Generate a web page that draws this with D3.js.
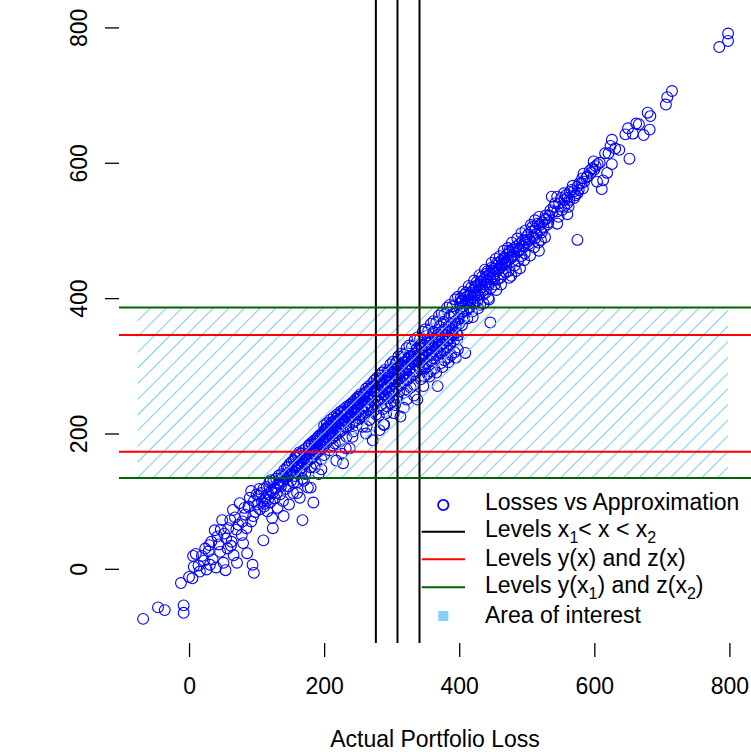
<!DOCTYPE html>
<html>
<head>
<meta charset="utf-8">
<script src="https://cdn.jsdelivr.net/npm/d3@7/dist/d3.min.js"></script>
<style>
	body { margin: 0; background: #fff; }
	text { font-family: 'Liberation Sans', Arial, Helvetica, sans-serif; fill: #000; }
</style>
</head>
<body>
<script>

// actual loss vs approximation
var losses = [
	[-68,-74],[-46,-57],[-36,-61],[-8,-54],[-8,-65],[-12,-21],[0,-12],[5,-14],[7,3],[6,19],
	[19,19],[26,-1],[31,6],[29,26],[46,25],[51,9],[66,20],[71,9],[86,23],[94,6],
	[96,-6],[38,57],[49,72],[61,72],[65,87],[75,97],[90,105],[98,84],[83,80],[55,45],
	[62,34],[78,50],[80,38],[85,60],[92,70],[44,36],[35,14],[70,58],[88,92],[96,100],
	[58,60],[22,12],[14,5],[42,48],
	[10,22],[24,30],[33,40],[52,52],[57,30],[68,76],[73,65],[82,90],[95,78],[100,110],
	[92,115],[79,70],[63,40],[47,58],[30,35],[16,-4],[40,2],[54,-2],
	[101,95],[103,108],[105,88],[107,112],[108,100],[110,118],[111,92],[113,104],[115,121],[116,85],
	[118,110],[119,128],[120,98],[122,115],[123,75],[125,130],[126,118],[127,104],[129,133],[130,112],
	[131,90],[133,138],[134,125],[135,110],[137,140],[138,129],[139,100],[141,146],[142,133],[143,118],
	[145,150],[146,137],[147,122],[148,95],[149,155],[150,140],[110,42],[124,60],[140,78],[168,72],
	[104,118],[112,96],[117,102],[121,131],[128,119],[132,126],[136,122],[144,140],[147,151],[152,141],
	[157,165],[161,150],[163,172],[166,143],[171,167],[174,161],[178,183],[183,176],[187,185],[191,195],
	[195,184],[199,203],[124,112],[139,136],[155,128],[170,130],[186,150],[196,147],[180,120],[160,112],
	[151,130],[152,158],[153,146],[154,112],[155,160],[156,150],[157,137],[158,164],[159,152],[160,128],
	[161,168],[162,156],[163,145],[164,105],[165,170],[166,160],[167,150],[168,133],[169,175],[170,163],
	[171,155],[172,140],[173,178],[174,168],[175,158],[176,120],[177,182],[178,171],[179,162],[180,150],
	[181,186],[182,175],[183,165],[184,98],[185,189],[186,179],[187,170],[188,155],[189,192],[190,182],
	[191,173],[192,140],[193,196],[194,186],[195,177],[196,162],[197,199],[198,189],[199,180],[200,168],
	[200,212],[201,203],[202,195],[203,186],[204,215],[205,207],[206,198],[207,190],[208,175],[209,220],
	[210,211],[211,202],[212,193],[213,182],[214,224],[215,216],[216,206],[217,197],[218,160],[219,228],
	[220,219],[221,210],[222,201],[223,188],[224,232],[225,223],[226,214],[227,205],[228,156],[229,236],
	[230,227],[231,218],[232,209],[233,195],[234,240],[235,231],[236,222],[237,212],[238,178],[239,243],
	[240,235],[241,226],[242,216],[243,203],[244,247],[245,238],[246,229],[247,219],[248,230],[249,250],
	[250,242],[251,233],[252,222],[253,254],[254,246],[255,237],[256,226],[257,210],[258,258],[259,250],
	[260,241],[261,231],[262,200],[263,262],[264,254],[265,245],[266,235],[267,220],[268,266],[269,258],
	[270,249],[271,239],[272,190],[273,270],[274,262],[275,253],[276,243],[277,228],[278,274],[279,266],
	[280,257],[281,247],[282,205],[283,278],[284,270],[285,261],[286,251],[287,236],[288,213],[289,274],
	[290,265],[291,282],[292,255],[293,240],[294,286],[295,278],[296,269],[297,259],[298,245],[299,290],
	[203,208],[207,201],[211,216],[213,195],[217,213],[221,226],[224,204],[229,220],[233,210],[236,238],
	[239,225],[244,232],[247,251],[251,245],[253,228],[257,249],[261,260],[264,240],[268,255],[271,274],
	[276,262],[279,250],[282,286],[285,272],[288,258],[291,268],[295,290],[298,276],[216,185],[232,178],
	[248,212],[259,225],[273,233],[284,242],[296,252],[226,170],[242,195],[263,210],[292,230],[281,226],
	[300,282],[301,273],[302,263],[303,248],[304,294],[305,286],[305,242],[306,277],[307,267],[308,252],
	[309,298],[310,290],[311,281],[312,271],[313,225],[314,302],[315,294],[316,285],[317,275],[318,260],
	[319,306],[320,298],[321,289],[322,279],[323,264],[324,310],[325,302],[326,293],[327,283],[328,268],
	[329,314],[330,306],[331,297],[332,287],[333,272],[334,318],[335,310],[336,301],[337,291],[338,250],
	[339,322],[340,314],[341,305],[342,295],[343,280],[344,326],[345,318],[346,309],[347,299],[348,284],
	[349,330],[350,322],[351,313],[352,303],[353,288],[354,334],[355,326],[356,317],[357,307],[358,292],
	[359,338],[360,330],[361,321],[362,311],[363,296],[364,342],[365,334],[366,325],[367,315],[368,270],
	[369,346],[370,338],[371,329],[372,319],[373,304],[374,350],[375,342],[376,333],[377,323],[378,308],
	[379,354],[380,346],[381,337],[382,327],[383,312],[384,358],[385,350],[386,341],[387,331],[388,316],
	[389,362],[390,354],[391,345],[392,335],[393,320],[394,366],[395,358],[396,349],[397,339],[398,324],
	[399,370],[400,362],[409,319],[446,364],
	[302,296],[305,280],[308,306],[312,288],[315,300],[318,312],[321,294],[324,280],[327,318],[331,310],
	[334,292],[337,325],[340,300],[343,331],[346,315],[349,296],[353,345],[356,333],[359,316],[362,350],
	[365,340],[368,322],[371,358],[374,331],[377,365],[380,352],[383,337],[386,372],[389,346],[392,377],
	[395,362],[398,345],[300,262],[311,262],[322,250],[333,256],[347,270],[356,284],[366,290],[375,298],
	[384,305],[395,312],[289,213],[303,230],[318,238],
	[401,385],[402,392],[403,378],[405,396],[406,388],[407,370],[409,400],[410,392],[411,382],[413,404],
	[414,396],[415,386],[417,408],[418,400],[419,380],[421,412],[422,404],[423,394],[425,416],[426,408],
	[427,396],[429,420],[430,412],[431,390],[433,424],[434,416],[435,405],[437,428],[438,420],[439,408],
	[441,432],[442,424],[443,400],[445,436],[446,428],[447,415],[449,440],[450,432],
	[403,396],[406,380],[408,405],[412,394],[416,404],[420,392],[424,418],[428,405],[432,425],[436,412],
	[440,436],[444,420],[448,445],[452,428],[456,452],[462,448],[466,458],[470,450],[474,470],[478,460],
	[483,472],[488,470],[493,478],[498,486],[404,360],[412,370],[420,372],[428,385],[436,392],[444,398],
	[455,412],[462,420],[474,430],[484,440],[496,456],
	[451,444],[452,436],[453,420],[455,448],[456,440],[457,428],[459,452],[460,444],[461,430],[463,456],
	[464,448],[465,435],[467,460],[468,452],[469,438],[471,464],[472,456],[473,440],[475,468],[476,460],
	[477,433],[479,472],[480,464],[482,448],[484,476],[485,468],[487,455],[489,480],[490,472],[490,444],
	[492,462],[494,485],[495,477],[497,466],[499,490],[500,482],[468,453],
	[502,494],[504,486],[505,463],[507,498],[509,490],[511,475],[513,503],[515,495],[517,482],[519,508],
	[520,500],[521,486],[523,512],[525,504],[527,490],[529,517],[531,509],[560,524],[575,486],
	[503,480],[508,505],[512,488],[516,510],[522,497],[526,516],[533,522],[538,527],[542,540],[547,520],
	[551,548],[555,535],[558,552],[563,545],[568,566],[572,552],[577,560],[581,570],[588,578],[595,585],
	[602,595],[608,600],[545,510],[518,470],
	[560,548],[566,560],[570,558],[575,565],[578,570],[585,572],[590,580],[593,588],[600,590],[605,598],
	[560,540],[548,540],[552,530],[540,535],[545,528],[535,530],[528,522],[532,512],[556,545],[562,535],
	[570,548],[575,555],[583,562],
	[785,771],[798,791],[798,780],[715,706],[708,697],[706,686],[679,674],[683,669],[662,658],[666,657],
	[682,649],[673,641],[646,642],[650,651],[657,643],[626,634],[624,625],[631,621],[637,619],[652,606],
	[616,614],[621,614],[626,598],[619,585],[613,574],[611,561],[599,602],[597,592],[584,584],[582,577],
	[604,572],[564,557],[555,555],[545,550],[537,550],
	[182,184],[186,190],[190,188],[194,198],[198,200],[202,206],[206,210],[210,207],[214,218],[218,222],
	[222,220],[226,230],[230,233],[234,232],[238,242],[242,246],[246,244],[250,254],[254,258],[258,255],
	[262,266],[266,270],[270,268],[274,278],[278,282],[282,280],[286,290],[290,294],[294,292],[298,302],
	[302,306],[306,304],[310,314],[314,318],[318,316],[322,326],[326,330],[330,328],[334,338],[338,342],
	[342,340],[346,350],[350,354],[354,352],[358,362],[362,366],[366,364],[370,374],[374,378],[378,376],
	[382,386],[386,390],[390,388],[394,398],[398,402],[402,400],[406,410],[410,408],[414,418],[418,416],
	[422,426],[426,424],[430,434],[434,432],[438,442],[442,440],[448,452],[454,458],[460,462],[466,470],
	[472,474],[478,482],[486,488],[492,496],[498,500],[506,508],[512,515],[518,520]
];

var xTicks = [0, 200, 400, 600, 800],
	yTicks = [0, 200, 400, 600, 800];

var xLevels = [276.6, 308.6, 341.2],      // x1 < x < x2
	yzLevels = [173.1, 345.4],            // y(x) and z(x)
	bandLevels = [134.3, 386.1],          // y(x1) and z(x2)
	areaRange = [-76.5, 798];             // x extent of the hatched area

var legendLabels = [
	[['Losses vs Approximation']],
	[['Levels x'], ['1', 'sub'], ['< x < x'], ['2', 'sub']],
	[['Levels y(x) and z(x)']],
	[['Levels y(x'], ['1', 'sub'], [') and z(x'], ['2', 'sub'], [')']],
	[['Area of interest']]
];

var colorPoint = '#0000FF',
	colorRed = '#FF0000',
	colorGreen = '#006400',
	colorArea = '#87CEFA';

var width = 751, height = 752;

var x = d3.scaleLinear()
	.domain([-103.7, 834.2])
	.range([119, 752.5]);

var y = d3.scaleLinear()
	.domain([-109.6, 825.3])
	.range([643, 10.3]);

var svg = d3.select('body').append('svg')
	.attr('width', width)
	.attr('height', height)
	.style('display', 'block')
	.style('background', '#fff');

var left = x.range()[0], right = x.range()[1],
	bottom = y.range()[0], top = y.range()[1];

// points
svg.append('g')
	.selectAll('circle')
	.data(losses)
	.enter().append('circle')
	.attr('cx', function(d) { return x(d[0]); })
	.attr('cy', function(d) { return y(d[1]); })
	.attr('r', 5.4)
	.attr('fill', 'none')
	.attr('stroke', colorPoint)
	.attr('stroke-width', 1.1);

// hatched area of interest
var ax0 = x(areaRange[0]), ax1 = x(areaRange[1]),
	ay0 = y(bandLevels[1]), ay1 = y(bandLevels[0]);

svg.append('clipPath').attr('id', 'areaClip')
	.append('rect')
	.attr('x', ax0).attr('y', ay0)
	.attr('width', ax1 - ax0).attr('height', ay1 - ay0);

var hatchStep = 15.67, hatchPhase = 458.6, hatches = [];
for (var c = hatchPhase - hatchStep * Math.ceil((hatchPhase - ax0 - ay0) / hatchStep); c <= ax1 + ay1 + hatchStep; c += hatchStep) {
	hatches.push(c);
}

svg.append('g')
	.attr('clip-path', 'url(#areaClip)')
	.selectAll('line')
	.data(hatches)
	.enter().append('line')
	.attr('x1', ax0).attr('y1', function(d) { return d - ax0; })
	.attr('x2', ax1).attr('y2', function(d) { return d - ax1; })
	.attr('stroke', colorArea)
	.attr('stroke-width', 1.1);

// level lines
svg.append('g').selectAll('line')
	.data(xLevels)
	.enter().append('line')
	.attr('x1', function(d) { return x(d); })
	.attr('x2', function(d) { return x(d); })
	.attr('y1', top).attr('y2', bottom)
	.attr('stroke', '#000')
	.attr('stroke-width', 2);

svg.append('g').selectAll('line')
	.data(yzLevels)
	.enter().append('line')
	.attr('x1', left).attr('x2', right)
	.attr('y1', function(d) { return y(d); })
	.attr('y2', function(d) { return y(d); })
	.attr('stroke', colorRed)
	.attr('stroke-width', 2);

svg.append('g').selectAll('line')
	.data(bandLevels)
	.enter().append('line')
	.attr('x1', left).attr('x2', right)
	.attr('y1', function(d) { return y(d); })
	.attr('y2', function(d) { return y(d); })
	.attr('stroke', colorGreen)
	.attr('stroke-width', 2);

// box
svg.append('rect')
	.attr('x', left).attr('y', top)
	.attr('width', right - left).attr('height', bottom - top)
	.attr('fill', 'none')
	.attr('stroke', '#000')
	.attr('stroke-width', 1.4);

// axes
var xAxis = svg.append('g')
	.attr('transform', 'translate(0,' + bottom + ')')
	.call(d3.axisBottom(x).tickValues(xTicks).tickSize(14).tickFormat(d3.format('d')));

xAxis.select('.domain').remove();
xAxis.selectAll('line').attr('stroke', '#000').attr('stroke-width', 1.3);
xAxis.selectAll('text')
	.attr('y', 51).attr('dy', null)
	.style('font-size', '23px')
	.attr('font-family', null);

var yAxis = svg.append('g')
	.attr('transform', 'translate(' + left + ',0)')
	.call(d3.axisLeft(y).tickValues(yTicks).tickSize(14).tickFormat(d3.format('d')));

yAxis.select('.domain').remove();
yAxis.selectAll('line').attr('stroke', '#000').attr('stroke-width', 1.3);
yAxis.selectAll('text')
	.attr('x', null).attr('dy', null)
	.attr('transform', 'translate(-31.7,0) rotate(-90)')
	.attr('text-anchor', 'middle')
	.style('font-size', '23px')
	.attr('font-family', null);

// axis titles
svg.append('text')
	.attr('x', (left + 751) / 2)
	.attr('y', 747)
	.attr('text-anchor', 'middle')
	.style('font-size', '23px')
	.text('Actual Portfolio Loss');

svg.append('text')
	.attr('transform', 'translate(31.5,' + ((top + bottom) / 2) + ') rotate(-90)')
	.attr('text-anchor', 'middle')
	.style('font-size', '23px')
	.text('Approximation');

// legend
var legendRows = [505, 531.7, 559.3, 587.3, 616],
	legendBase = [510, 537, 566, 593, 623];

var legend = svg.append('g');

legend.append('circle')
	.attr('cx', 443.3).attr('cy', legendRows[0]).attr('r', 5.2)
	.attr('fill', 'none').attr('stroke', colorPoint).attr('stroke-width', 1.8);

[['#000', 1], [colorRed, 2], [colorGreen, 3]].forEach(function(l) {
	legend.append('line')
		.attr('x1', 421.7).attr('x2', 465)
		.attr('y1', legendRows[l[1]]).attr('y2', legendRows[l[1]])
		.attr('stroke', l[0]).attr('stroke-width', 2);
});

legend.append('rect')
	.attr('x', 438.3).attr('y', legendRows[4] - 5)
	.attr('width', 10).attr('height', 10)
	.attr('fill', colorArea);

legendLabels.forEach(function(parts, i) {
	var t = legend.append('text')
		.attr('x', 485)
		.attr('y', legendBase[i])
		.style('font-size', '23px');
	var down = false;
	parts.forEach(function(p) {
		var sub = p[1] === 'sub';
		var dy = 0;
		if (sub && !down) { dy = 6; down = true; }
		else if (!sub && down) { dy = -6; down = false; }
		t.append('tspan')
			.attr('dy', dy)
			.style('font-size', sub ? '16px' : '23px')
			.text(p[0]);
	});
});

</script>
</body>
</html>
